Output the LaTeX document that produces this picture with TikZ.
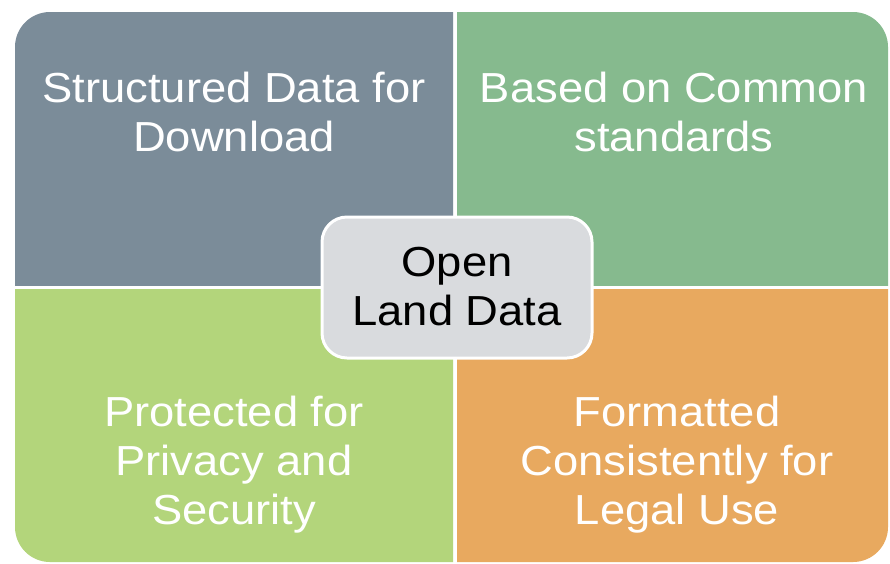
\documentclass[tikz,border=0pt]{standalone}
\usepackage{fontspec}
\setmainfont{Liberation Sans}[FakeStretch=1.08]
\definecolor{tlcol}{HTML}{7B8C99}
\definecolor{trcol}{HTML}{86BA8E}
\definecolor{blcol}{HTML}{B3D57B}
\definecolor{brcol}{HTML}{E8A95F}
\definecolor{cencol}{HTML}{D9DBDE}
\tikzset{
  quadtext/.style={text=white, align=center, anchor=base, inner sep=0pt,
    font=\fontsize{42}{49}\selectfont},
  centertext/.style={text=black, align=center, anchor=base, inner sep=0pt,
    font=\fontsize{42}{49}\selectfont},
  outer/.style={rounded corners=35pt},
}
\begin{document}
\begin{tikzpicture}[x=1pt,y=-1pt]
\useasboundingbox (0,0) rectangle (890,563);
\fill[white] (0,0) rectangle (890,563);
% quadrants
\begin{scope}
  \clip (0,0) rectangle (453,285);
  \fill[tlcol, outer] (15,12) rectangle (888,562);
\end{scope}
\begin{scope}
  \clip (457,0) rectangle (890,285);
  \fill[trcol, outer] (15,12) rectangle (888,562);
\end{scope}
\begin{scope}
  \clip (0,289) rectangle (453,563);
  \fill[blcol, outer] (15,12) rectangle (888,562);
\end{scope}
\begin{scope}
  \clip (457,289) rectangle (890,563);
  \fill[brcol, outer] (15,12) rectangle (888,562);
\end{scope}
% texts (anchor base = baseline of last line)
\node[quadtext] (tl) at (234,151) {Structured Data for\\Download};
\node[quadtext] (tr) at (674,151) {Based on Common\\standards};
\node[quadtext] (bl) at (234,524) {Protected for\\Privacy and\\Security};
\node[quadtext] (br) at (677,524) {Formatted\\Consistently for\\Legal Use};
% center
\draw[white, line width=3pt, fill=cencol, rounded corners=25pt] (322,217) rectangle (592,358);
\node[centertext] (c) at (457,325) {Open\\Land Data};
\end{tikzpicture}
\end{document}
